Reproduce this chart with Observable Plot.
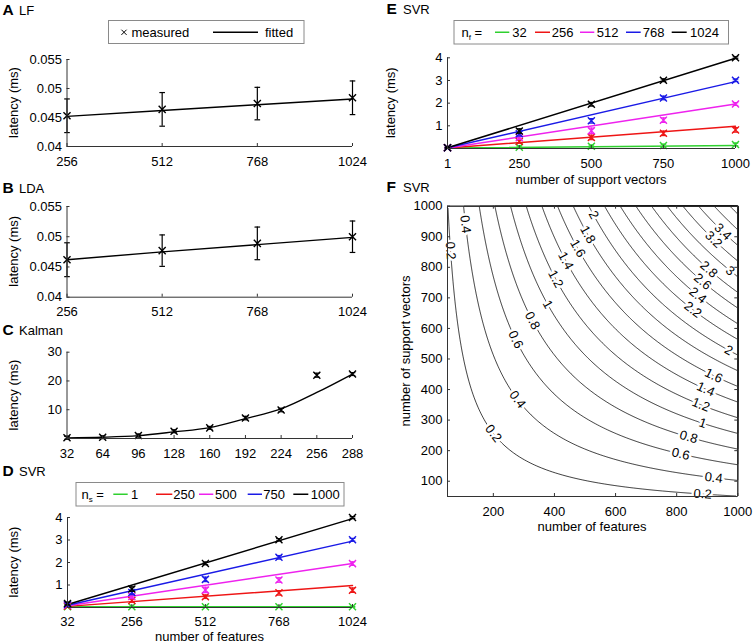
<!DOCTYPE html>
<html>
<head>
<meta charset="utf-8">
<script src="https://cdn.jsdelivr.net/npm/d3@7"></script>
<script src="https://cdn.jsdelivr.net/npm/@observablehq/plot@0.6"></script>
<style>
  body { margin: 0; background: #fff; }
  #fig { position: relative; width: 755px; height: 644px; overflow: hidden; background: #fff; }
</style>
</head>
<body>
<div id="fig"></div>
<script>
// ---------------- DATA ----------------
// A: LF
const lfFeatures = [256, 512, 768, 1024];
const lfMeasured = [0.0453, 0.0464, 0.0474, 0.0484];
const lfErr      = [0.0029, 0.0029, 0.0028, 0.0029];
const lfFitted   = [0.0452, 0.0462, 0.0472, 0.0482];
const lfYTicks   = [0.04, 0.045, 0.05, 0.055];

// B: LDA
const ldaFeatures = [256, 512, 768, 1024];
const ldaMeasured = [0.0462, 0.0477, 0.0489, 0.0500];
const ldaErr      = [0.0028, 0.0026, 0.0027, 0.0026];
const ldaFitted   = [0.0462, 0.0475, 0.0487, 0.0499];
const ldaYTicks   = [0.04, 0.045, 0.05, 0.055];

// C: Kalman
const kalmanStates   = [32, 64, 96, 128, 160, 192, 224, 256, 288];
const kalmanMeasured = [0.24, 0.45, 1.05, 2.5, 3.7, 7.1, 9.9, 22.0, 22.4];
const kalmanErr      = [0.5, 0.5, 0.5, 0.5, 0.5, 0.6, 0.6, 0.7, 0.5];
const kalmanFitted   = [0.2, 0.45, 1.0, 2.3, 3.8, 6.9, 10.3, 16.0, 22.4];
const kalmanYTicks   = [10, 20, 30];

// D / E: SVR  (rows = number of support vectors, columns = number of features)
const svrFeatures       = [32, 256, 512, 768, 1024];
const svrSupportVectors = [1, 250, 500, 750, 1000];
const svrMeasured = [
  [0.03, 0.03, 0.03, 0.03, 0.03],
  [0.06, 0.31, 0.48, 0.65, 0.77],
  [0.10, 0.49, 0.78, 1.22, 1.95],
  [0.13, 0.67, 1.25, 2.23, 3.01],
  [0.18, 0.82, 1.96, 3.01, 4.00]
];
const svrErr = [
  [0.02, 0.02, 0.02, 0.02, 0.02],
  [0.05, 0.08, 0.08, 0.10, 0.10],
  [0.05, 0.10, 0.12, 0.10, 0.08],
  [0.06, 0.10, 0.10, 0.08, 0.06],
  [0.06, 0.10, 0.06, 0.05, 0.04]
];
// fitted straight lines, D: one per support-vector count, value at 32 and at 1024 features
const svrFitD_start = [0.03, 0.05, 0.08, 0.10, 0.13];
const svrFitD_end   = [0.03, 0.98, 1.96, 2.95, 3.95];
// fitted straight lines, E: one per feature count, value at 1 and at 1000 support vectors
const svrFitE_start = [0.02, 0.02, 0.02, 0.03, 0.03];
const svrFitE_end   = [0.13, 0.98, 1.96, 2.95, 3.98];
const svrYTicks = [1, 2, 3, 4];

// F: fitted SVR latency model, latency (ms) = slope * features * support vectors
const svrFitSlope = 3.9e-6;
const contourLevels = [0.2, 0.4, 0.6, 0.8, 1, 1.2, 1.4, 1.6, 1.8, 2, 2.2, 2.4, 2.6, 2.8, 3, 3.2, 3.4, 3.6, 3.8];
const contourLabelLevels   = [0.2, 0.4, 0.6, 0.8, 1, 1.2, 1.4, 1.6, 1.8, 2, 0.4, 0.2,
                              0.2, 0.4, 0.6, 0.8, 1, 1.2, 1.4, 1.6, 2, 2.2, 2.4, 2.6, 2.8, 3, 3.2, 3.4];
const contourLabelFeatures = [60, 109, 273, 328, 378, 404, 437, 476, 509, 528, 279, 200,
                              885, 921, 813, 839, 885, 879, 895, 921, 970, 853, 869, 885, 905, 975, 921, 951];
const fXTicks = [200, 400, 600, 800, 1000];
const fYTicks = [100, 200, 300, 400, 500, 600, 700, 800, 900, 1000];

// ---------------- STYLE ----------------
const FONT = "'Liberation Sans', Arial, Helvetica, sans-serif";
const AX = "#333";
const seriesColors = ["#2fd02f", "#ee1515", "#ee22ee", "#1a1ae6", "#000000"];
const fig = document.getElementById("fig");
const fmt = d => `${d}`;
const capSymbol = { draw(context, size) { const w = Math.sqrt(size / Math.PI); context.moveTo(-w, 0); context.lineTo(w, 0); } };

function errMarks(data, color, sw = 1.2) {
  return [
    Plot.ruleX(data, { x: "x", y1: d => d.y - d.e, y2: d => d.y + d.e, stroke: color, strokeWidth: sw }),
    Plot.dot(data, { x: "x", y: d => d.y - d.e, symbol: capSymbol, r: 2.8, stroke: color, fill: "none", strokeWidth: sw }),
    Plot.dot(data, { x: "x", y: d => d.y + d.e, symbol: capSymbol, r: 2.8, stroke: color, fill: "none", strokeWidth: sw }),
    Plot.dot(data, { x: "x", y: "y", symbol: "times", r: 3.3, stroke: color, fill: "none", strokeWidth: 1.4 })
  ];
}

function panel({ left, top, width, height, ml, mr, mt, mb, xDomain, yDomain, xTicks, yTicks, box = false, marks, xPad = 10 }) {
  const iw = width - ml - mr, ih = height - mt - mb, t = 3;
  const frame = [
    Plot.ruleX([xDomain[0]], { stroke: AX }),
    Plot.ruleY([yDomain[0]], { stroke: AX }),
    Plot.ruleX(xTicks, { x: d => d, stroke: AX, insetTop: ih - t }),
    Plot.ruleY(yTicks, { y: d => d, stroke: AX, insetRight: iw - t })
  ];
  if (box) frame.push(
    Plot.ruleX([xDomain[1]], { stroke: AX }),
    Plot.ruleY([yDomain[1]], { stroke: AX }),
    Plot.ruleX(xTicks, { x: d => d, stroke: AX, insetBottom: ih - t }),
    Plot.ruleY(yTicks, { y: d => d, stroke: AX, insetLeft: iw - t })
  );
  const svg = Plot.plot({
    width, height, marginLeft: ml, marginRight: mr, marginTop: mt, marginBottom: mb,
    x: { domain: xDomain }, y: { domain: yDomain },
    style: { background: "transparent", fontFamily: FONT, fontSize: "13px", color: "black", overflow: "visible" },
    marks: [
      ...marks,
      ...frame,
      Plot.axisX(xTicks, { tickSize: 0, tickPadding: xPad, tickFormat: fmt, label: null }),
      Plot.axisY(yTicks, { tickSize: 0, tickPadding: 5, tickFormat: fmt, label: null })
    ]
  });
  svg.style.position = "absolute";
  svg.style.left = left + "px";
  svg.style.top = top + "px";
  fig.appendChild(svg);
  return { iw, ih };
}

// ---------- A: LF ----------
const lfData = lfFeatures.map((x, i) => ({ x, y: lfMeasured[i], e: lfErr[i], fit: lfFitted[i] }));
panel({
  left: 0, top: 40, width: 372, height: 130, ml: 66.5, mr: 20, mt: 19, mb: 24,
  xDomain: [lfFeatures[0], lfFeatures[lfFeatures.length - 1]], yDomain: [lfYTicks[0], lfYTicks[lfYTicks.length - 1]],
  xTicks: lfFeatures, yTicks: lfYTicks,
  marks: [Plot.line(lfData, { x: "x", y: "fit", stroke: "black", strokeWidth: 1.4 }), ...errMarks(lfData, "black")]
});

// ---------- B: LDA ----------
const ldaData = ldaFeatures.map((x, i) => ({ x, y: ldaMeasured[i], e: ldaErr[i], fit: ldaFitted[i] }));
panel({
  left: 0, top: 180, width: 372, height: 140, ml: 66.5, mr: 20, mt: 26, mb: 23.3,
  xDomain: [ldaFeatures[0], ldaFeatures[ldaFeatures.length - 1]], yDomain: [ldaYTicks[0], ldaYTicks[ldaYTicks.length - 1]],
  xTicks: ldaFeatures, yTicks: ldaYTicks,
  marks: [Plot.line(ldaData, { x: "x", y: "fit", stroke: "black", strokeWidth: 1.4 }), ...errMarks(ldaData, "black")]
});

// ---------- C: Kalman ----------
const kalData = kalmanStates.map((x, i) => ({ x, y: kalmanMeasured[i], e: kalmanErr[i], fit: kalmanFitted[i] }));
panel({
  left: 0, top: 330, width: 372, height: 130, ml: 66.5, mr: 20, mt: 21.7, mb: 22,
  xDomain: [kalmanStates[0], kalmanStates[kalmanStates.length - 1]], yDomain: [0, kalmanYTicks[kalmanYTicks.length - 1]],
  xTicks: kalmanStates, yTicks: kalmanYTicks,
  marks: [Plot.line(kalData, { x: "x", y: "fit", stroke: "black", strokeWidth: 1.4, curve: "catmull-rom" }), ...errMarks(kalData, "black")]
});

// ---------- D: SVR vs features ----------
const dMarks = [];
svrSupportVectors.forEach((ns, i) => {
  const fit = [{ x: svrFeatures[0], v: svrFitD_start[i] }, { x: svrFeatures[svrFeatures.length - 1], v: svrFitD_end[i] }];
  dMarks.push(Plot.line(fit, { x: "x", y: "v", stroke: seriesColors[i], strokeWidth: 1.5 }));
});
svrSupportVectors.forEach((ns, i) => {
  const meas = svrFeatures.map((x, j) => ({ x, y: svrMeasured[i][j], e: svrErr[i][j] }));
  dMarks.push(...errMarks(meas, seriesColors[i]));
});
panel({
  left: 0, top: 500, width: 372, height: 144, ml: 67, mr: 20, mt: 17, mb: 37, xPad: 9,
  xDomain: [svrFeatures[0], svrFeatures[svrFeatures.length - 1]], yDomain: [0, svrYTicks[svrYTicks.length - 1]],
  xTicks: svrFeatures, yTicks: svrYTicks, marks: dMarks
});

// ---------- E: SVR vs support vectors ----------
const eMarks = [];
svrFeatures.forEach((nf, j) => {
  const fit = [{ x: svrSupportVectors[0], v: svrFitE_start[j] }, { x: svrSupportVectors[svrSupportVectors.length - 1], v: svrFitE_end[j] }];
  eMarks.push(Plot.line(fit, { x: "x", y: "v", stroke: seriesColors[j], strokeWidth: 1.5 }));
});
svrFeatures.forEach((nf, j) => {
  const meas = svrSupportVectors.map((x, i) => ({ x, y: svrMeasured[i][j], e: svrErr[i][j] }));
  eMarks.push(...errMarks(meas, seriesColors[j]));
});
panel({
  left: 380, top: 40, width: 375, height: 140, ml: 67, mr: 20, mt: 17.3, mb: 32,
  xDomain: [svrSupportVectors[0], svrSupportVectors[svrSupportVectors.length - 1]], yDomain: [0, svrYTicks[svrYTicks.length - 1]],
  xTicks: svrSupportVectors, yTicks: svrYTicks, marks: eMarks
});

// ---------- F: contour ----------
const fX = [50, 1000], fY = [50, 1000];
const fW = 375, fH = 345, fML = 67, fMR = 17.7, fMT = 15.7, fMB = 39;
const fIW = fW - fML - fMR, fIH = fH - fMT - fMB;
const kx = fIW / (fX[1] - fX[0]), ky = fIH / (fY[1] - fY[0]);
const labelData = contourLabelLevels.map((level, i) => {
  const nf = contourLabelFeatures[i];
  const ns = level / (svrFitSlope * nf);
  return { level, nf, ns, angle: Math.atan((ns / nf) * (ky / kx)) * 180 / Math.PI };
});
panel({
  left: 380, top: 190, width: fW, height: fH, ml: fML, mr: fMR, mt: fMT, mb: fMB,
  xDomain: fX, yDomain: fY, xTicks: fXTicks, yTicks: fYTicks, box: true,
  marks: [
    Plot.contour({
      x1: fX[0], y1: fY[0], x2: fX[1], y2: fY[1],
      value: (nf, ns) => svrFitSlope * nf * ns,
      thresholds: contourLevels, stroke: "#111", strokeWidth: 0.85, fill: "none", pixelSize: 1
    }),
    Plot.text(labelData, {
      x: "nf", y: "ns", text: d => fmt(d.level), rotate: "angle",
      fill: "black", stroke: "white", strokeWidth: 5, paintOrder: "stroke", fontSize: 13
    })
  ]
});

// ---------------- OVERLAY TEXT: panel labels, axis titles, legends ----------------
const ov = d3.create("svg").attr("width", 755).attr("height", 644)
  .style("position", "absolute").style("left", "0px").style("top", "0px")
  .style("font-family", FONT).style("font-size", "13px");

const panelTitles = [
  ["A", "LF", 2.5, 15], ["B", "LDA", 2.5, 193.3], ["C", "Kalman", 2.5, 335],
  ["D", "SVR", 2.5, 476], ["E", "SVR", 386.5, 14], ["F", "SVR", 386.5, 191.7]
];
for (const [L, T, x, y] of panelTitles) {
  ov.append("text").attr("x", x).attr("y", y).attr("font-weight", "bold").attr("font-size", 15.5).text(L);
  ov.append("text").attr("x", x + 16.5).attr("y", y).text(T);
}
function vlabel(txt, cx, cy) {
  ov.append("text").attr("transform", `translate(${cx},${cy}) rotate(-90)`).attr("text-anchor", "middle")
    .attr("dy", "0.35em").text(txt);
}
function hlabel(txt, cx, cy) {
  ov.append("text").attr("x", cx).attr("y", cy).attr("text-anchor", "middle").attr("dy", "0.35em").text(txt);
}
vlabel("latency (ms)", 13, 102.5);
vlabel("latency (ms)", 13, 251.3);
vlabel("latency (ms)", 13, 395);
vlabel("latency (ms)", 13, 562);
vlabel("latency (ms)", 390.5, 102.7);
vlabel("number of support vectors", 405, 351);
hlabel("number of features", 209.5, 636.5);
hlabel("number of support vectors", 591, 179);
hlabel("number of features", 592, 526);

// legend A
{
  const g = ov.append("g");
  g.append("rect").attr("x", 108.5).attr("y", 20.5).attr("width", 195.5).attr("height", 23).attr("fill", "white").attr("stroke", "#8a8a8a");
  const cx = 124, cy = 32.3, r = 2.6;
  g.append("path").attr("d", `M${cx - r},${cy - r}L${cx + r},${cy + r}M${cx - r},${cy + r}L${cx + r},${cy - r}`).attr("stroke", "black").attr("stroke-width", 1);
  g.append("text").attr("x", 131.5).attr("y", 37).text("measured");
  g.append("line").attr("x1", 213).attr("x2", 258).attr("y1", cy).attr("y2", cy).attr("stroke", "black").attr("stroke-width", 1.4);
  g.append("text").attr("x", 265).attr("y", 37).text("fitted");
}
function seriesLegend(box, sub, nX, entries, values) {
  const g = ov.append("g");
  g.append("rect").attr("x", box[0]).attr("y", box[1]).attr("width", box[2]).attr("height", box[3]).attr("fill", "white").attr("stroke", "#8a8a8a");
  const cy = box[1] + box[3] / 2, base = cy + 4.6;
  const t = g.append("text").attr("x", nX).attr("y", base);
  t.append("tspan").text("n");
  t.append("tspan").attr("font-size", 8).attr("dy", 3).text(sub);
  t.append("tspan").attr("dy", -3).text(" =");
  entries.forEach(([x1, x2, tx], i) => {
    g.append("line").attr("x1", x1).attr("x2", x2).attr("y1", cy).attr("y2", cy).attr("stroke", seriesColors[i]).attr("stroke-width", 1.5);
    g.append("text").attr("x", tx).attr("y", base).text(values[i]);
  });
}
seriesLegend([76, 482.5, 268, 23.5], "s", 81.5,
  [[113.3, 127.7, 131], [156, 172.3, 173.3], [199, 213.3, 215], [247.7, 262, 263.3], [293.3, 308.3, 310.7]], svrSupportVectors);
seriesLegend([454, 20.5, 274.5, 23.5], "f", 461.5,
  [[495, 509.3, 512.3], [535, 550, 551.7], [580, 594.3, 596.7], [626, 640.7, 642.7], [671.7, 686.7, 690]], svrFeatures);

fig.appendChild(ov.node());
</script>
</body>
</html>
